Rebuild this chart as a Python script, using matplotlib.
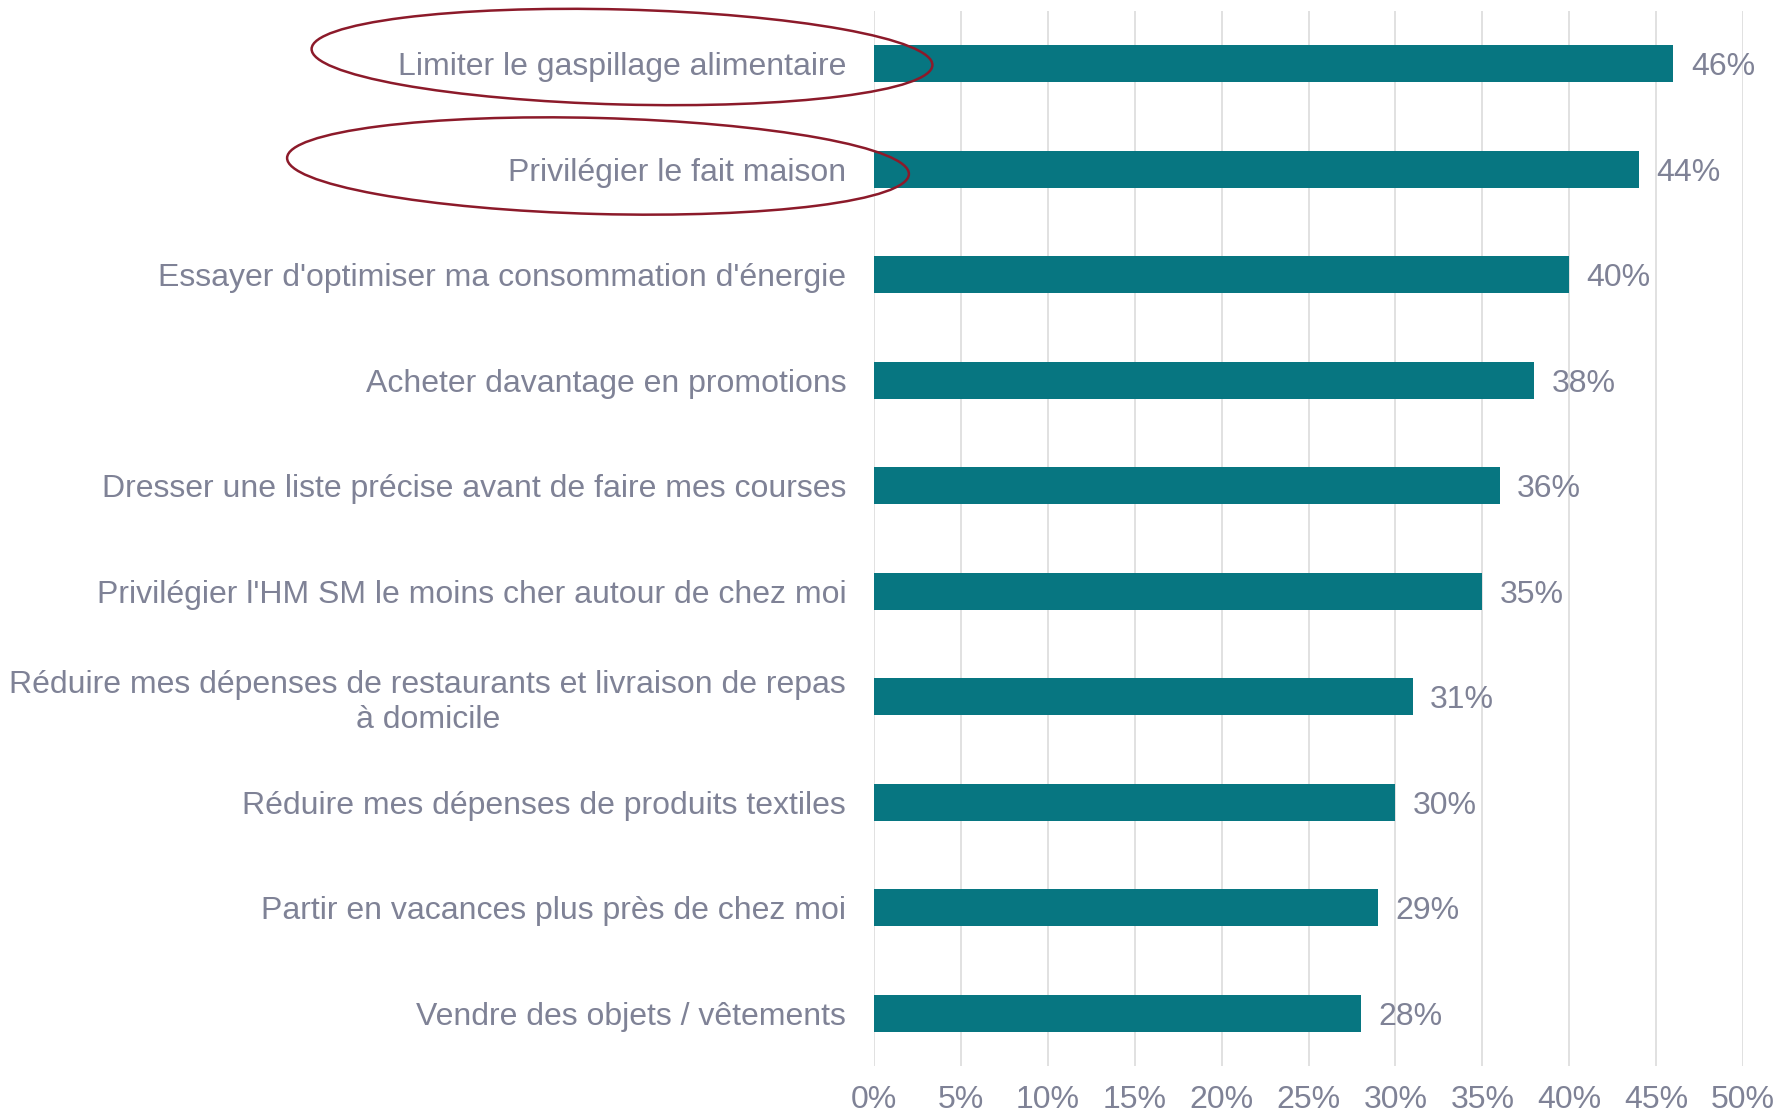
import matplotlib
matplotlib.use("Agg")
import matplotlib.pyplot as plt
from matplotlib.patches import Ellipse

# data
categories = [
    "Limiter le gaspillage alimentaire",
    "Privilégier le fait maison",
    "Essayer d'optimiser ma consommation d'énergie",
    "Acheter davantage en promotions",
    "Dresser une liste précise avant de faire mes courses",
    "Privilégier l'HM SM le moins cher autour de chez moi",
    "Réduire mes dépenses de restaurants et livraison de repas\nà domicile",
    "Réduire mes dépenses de produits textiles",
    "Partir en vacances plus près de chez moi",
    "Vendre des objets / vêtements",
]
values = [46, 44, 40, 38, 36, 35, 31, 30, 29, 28]
xticks = [0, 5, 10, 15, 20, 25, 30, 35, 40, 45, 50]

BAR = "#077681"
TXT = "#7f8296"
GRID = "#dcdcdc"
RED = "#8c1a2a"

plt.rcParams['font.family'] = ['Liberation Sans', 'DejaVu Sans']
FS = 23

fig = plt.figure(figsize=(17.78, 11.16), dpi=100)
ax = fig.add_axes([874/1778, 1 - 1066/1116, (1743-874)/1778, (1066-11)/1116])

y = list(range(len(categories)))
ax.barh(y, values, height=0.35, color=BAR, zorder=3)
ax.set_ylim(len(categories) - 0.5, -0.5)
ax.set_xlim(0, 50)

for yi, v in zip(y, values):
    ax.annotate(f"{v}%", (v, yi), xytext=(12.5, 0), textcoords="offset points",
                va="center_baseline", ha="left", fontsize=FS, color=TXT)

ax.set_yticks(y)
ax.set_yticklabels(categories, fontsize=FS, color=TXT)
for t in ax.get_yticklabels():
    t.set_multialignment("center")
ax.set_xticks(xticks)
ax.set_xticklabels([f"{t}%" for t in xticks], fontsize=FS, color=TXT)
ax.tick_params(axis="y", length=0, pad=20)
ax.tick_params(axis="x", length=0, pad=14)

ax.grid(axis="x", color=GRID, linewidth=1.2, zorder=0)
for s in ax.spines.values():
    s.set_visible(False)

# highlight ellipses (overlay in pixel space)
ov = fig.add_axes([0, 0, 1, 1], facecolor="none")
ov.set_xlim(0, 1778)
ov.set_ylim(1116, 0)
ov.axis("off")
ov.add_patch(Ellipse((622, 57), 621, 95, angle=1.5, fill=False, edgecolor=RED, linewidth=1.8))
ov.add_patch(Ellipse((598, 166), 622, 96, angle=1.5, fill=False, edgecolor=RED, linewidth=1.8))

fig.savefig("out.png", dpi=100)
